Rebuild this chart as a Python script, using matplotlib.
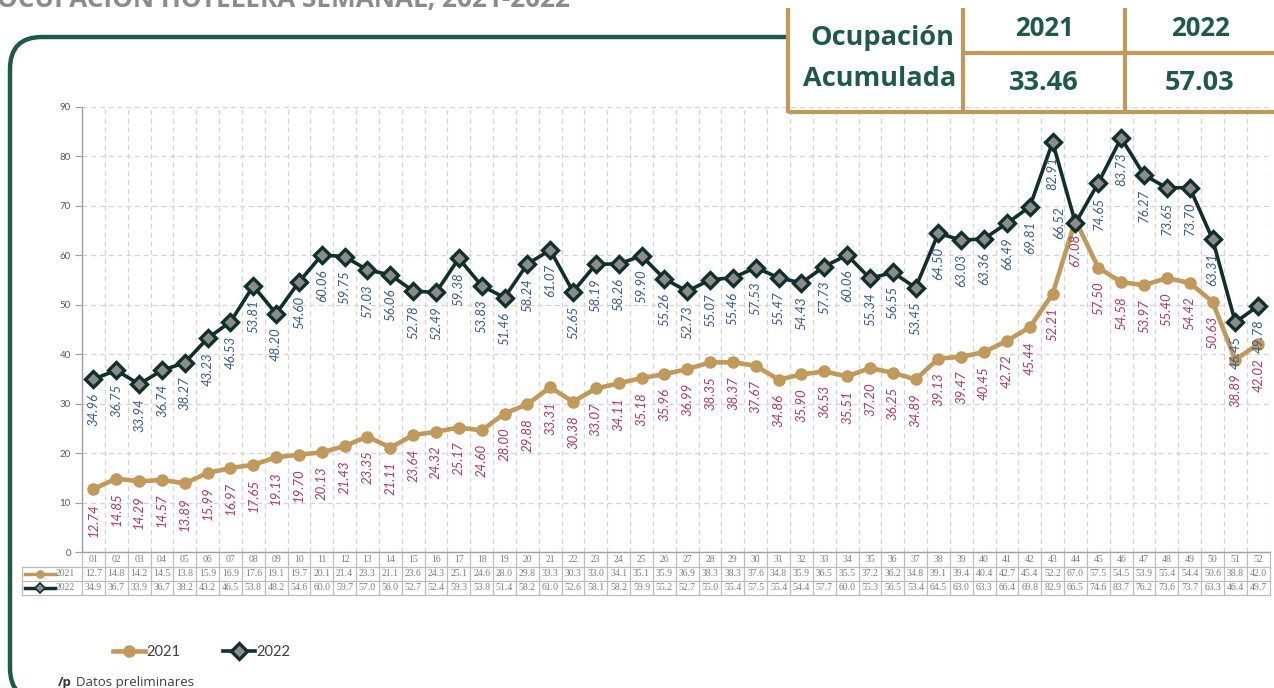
import matplotlib.pyplot as plt
import numpy as np
from matplotlib.lines import Line2D
from matplotlib.patches import FancyBboxPatch, Rectangle
from matplotlib import transforms

# datos semanales (%)
semanas = [f'{i:02d}' for i in range(1, 53)]
occ_2021 = [12.74, 14.85, 14.29, 14.57, 13.89, 15.99, 16.97, 17.65, 19.13, 19.70,
            20.13, 21.43, 23.35, 21.11, 23.64, 24.32, 25.17, 24.60, 28.00, 29.88,
            33.31, 30.38, 33.07, 34.11, 35.18, 35.96, 36.99, 38.35, 38.37, 37.67,
            34.86, 35.90, 36.53, 35.51, 37.20, 36.25, 34.89, 39.13, 39.47, 40.45,
            42.72, 45.44, 52.21, 67.08, 57.50, 54.58, 53.97, 55.40, 54.42, 50.63,
            38.89, 42.02]
occ_2022 = [34.96, 36.75, 33.94, 36.74, 38.27, 43.23, 46.53, 53.81, 48.20, 54.60,
            60.06, 59.75, 57.03, 56.06, 52.78, 52.49, 59.38, 53.83, 51.46, 58.24,
            61.07, 52.65, 58.19, 58.26, 59.90, 55.26, 52.73, 55.07, 55.46, 57.53,
            55.47, 54.43, 57.73, 60.06, 55.34, 56.55, 53.45, 64.50, 63.03, 63.36,
            66.49, 69.81, 82.91, 66.52, 74.65, 83.73, 76.27, 73.65, 73.70, 63.31,
            46.45, 49.78]
acum_years = ['2021', '2022']
acum_vals = ['33.46', '57.03']

TAN = '#c09a5b'
DARK = '#12302a'
GREEN = '#1f5a49'
BLUE = '#3b5b93'
RED = '#b23a5f'
GRAY = '#7f7f7f'


def trunc(v):
    return f'{(int(round(v * 100)) // 10) / 10:.1f}'


W, H = 1274, 688
fig = plt.figure(figsize=(W / 100, H / 100), dpi=100)
px = fig.dpi_scale_trans


def P(x, y):
    return x / 100, (H - y) / 100


# marco redondeado
border = FancyBboxPatch(P(10, 700), 13.0, (700 - 37) / 100,
                        boxstyle='round,pad=0,rounding_size=0.32',
                        transform=px, fill=False, ec=GREEN, lw=3.2, zorder=1)
fig.add_artist(border)

# titulo (cortado)
fig.text(-3 / W, 1 - 7 / H, 'OCUPACIÓN HOTELERA SEMANAL, 2021-2022', fontsize=18.8,
         fontweight='bold', color='#8c8c8c', family='Open Sans', va='baseline')

# grafico
x = np.arange(len(semanas))
ax = fig.add_axes([82 / W, (H - 552) / H, (1269.6 - 82) / W, (552 - 107) / H])
ax.set_facecolor('none')
ax.set_xlim(-0.5, len(semanas) - 0.5)
ax.set_ylim(0, 90)
ax.set_yticks(np.arange(0, 91, 10))
ax.set_xticks(np.arange(-0.5, len(semanas), 1))
ax.set_xticklabels([])
ax.tick_params(axis='x', length=0)
ax.tick_params(axis='y', length=5, color='#a0a0a0', labelsize=7, labelcolor='#595959', pad=3)
for t in ax.get_yticklabels():
    t.set_family('Lato')
ax.grid(True, ls=(0, (4, 3)), color='#d4d4d4', lw=0.9)
ax.set_axisbelow(True)
for s in ['top', 'right']:
    ax.spines[s].set_visible(False)
for s in ['left', 'bottom']:
    ax.spines[s].set_color('#a0a0a0')
    ax.spines[s].set_linewidth(1)

l21, = ax.plot(x, occ_2021, color=TAN, lw=3.3, marker='o', ms=8, mec=TAN, mfc=TAN,
               label='2021', zorder=3, clip_on=False)
l22, = ax.plot(x, occ_2022, color=DARK, lw=2.6, marker='D', ms=8.5, mec=DARK, mew=2.4,
               mfc='#8c8c8c', label='2022', zorder=4, clip_on=False)

for xi, v in zip(x, occ_2021):
    ax.annotate(f'{v:.2f}', (xi, v), xytext=(0, -10), textcoords='offset points',
                rotation=90, ha='center', va='top', fontsize=9.5, color=RED,
                family='Lato', style='italic', zorder=5)
for xi, v in zip(x, occ_2022):
    # la etiqueta de la semana 44 va a la izquierda del punto para no chocar con 2021
    if semanas[xi] == '44':
        off, va = (-12, 0), 'center'
    else:
        off, va = (0, -10), 'top'
    ax.annotate(f'{v:.2f}', (xi, v), xytext=off, textcoords='offset points',
                rotation=90, ha='center', va=va, fontsize=9.5, color=BLUE,
                family='Lato', style='italic', zorder=5)

# tabla de datos inferior
bt = transforms.blended_transform_factory(ax.transData, px)
rows_y = [553, 567, 581, 595]
lc = '#bdbdbd'
for k in range(len(semanas) + 1):
    fig.add_artist(Line2D([k - 0.5, k - 0.5], [(H - 553) / 100, (H - 595) / 100],
                          transform=bt, color=lc, lw=0.9))
for yy in rows_y[1:]:
    fig.add_artist(Line2D([22 / 100, 1269.6 / 100], [(H - yy) / 100] * 2,
                          transform=px, color=lc, lw=0.9))
fig.add_artist(Line2D([22 / 100, 22 / 100], [(H - 567) / 100, (H - 595) / 100],
                      transform=px, color=lc, lw=0.9))
tab_rows = [semanas, [trunc(v) for v in occ_2021], [trunc(v) for v in occ_2022]]
for r, vals in enumerate(tab_rows):
    yc = (H - (rows_y[r] + rows_y[r + 1]) / 2) / 100
    for xi, s in zip(x, vals):
        fig.text(xi, yc, s, transform=bt, ha='center', va='center', fontsize=7,
                 color=GRAY, family='Liberation Serif')

for r, (lab, col, mk, face) in enumerate([('2021', TAN, 'o', TAN), ('2022', DARK, 'D', '#8c8c8c')]):
    yc = (H - (rows_y[r + 1] + rows_y[r + 2]) / 2) / 100
    fig.add_artist(Line2D([25 / 100, 55 / 100], [yc, yc], transform=px, color=col, lw=2.5))
    fig.add_artist(Line2D([40 / 100], [yc], transform=px, color=col, marker=mk, ms=5,
                          mfc=face, mec=col, mew=1.2))
    fig.text(56 / 100, yc, lab, transform=px, ha='left', va='center', fontsize=7,
             color=GRAY, family='Liberation Serif')

# leyenda
fig.legend(handles=[l21, l22], loc='center left', bbox_to_anchor=(100 / W, 1 - 652 / H),
           ncol=2, frameon=False, handlelength=2.2, handletextpad=0.1, columnspacing=2.9,
           prop={'family': 'Lato', 'size': 10.5}, labelcolor='#404040')

# nota
fig.text(58 / W, 1 - 686 / H, '/p', fontsize=9.5, fontweight='bold', color='#333333',
         family='Open Sans', va='baseline')
fig.text(76 / W, 1 - 686 / H, 'Datos preliminares', fontsize=9.5, color='#404040',
         family='Open Sans', va='baseline')

# cuadro de ocupacion acumulada
fig.add_artist(Rectangle(P(790, 104), 4.9, 0.96, transform=px, fc='white', ec='none', zorder=2))
tl = dict(transform=px, color=TAN, lw=3, zorder=3, solid_capstyle='butt')
fig.add_artist(Line2D([7.88, 7.88], [(H - 8) / 100, (H - 113) / 100], **tl))
fig.add_artist(Line2D([9.63, 9.63], [(H - 8) / 100, (H - 113) / 100], **tl))
fig.add_artist(Line2D([11.245, 11.245], [(H - 8) / 100, (H - 113) / 100], **tl))
fig.add_artist(Line2D([9.63, 12.74], [(H - 53) / 100] * 2, **tl))
fig.add_artist(Line2D([7.88, 12.74], [(H - 112) / 100] * 2, **tl))
tk = dict(transform=px, color=GREEN, fontweight='bold', family='Open Sans',
          ha='center', va='center', zorder=4)
fig.text(*P(882, 38), 'Ocupación', fontsize=19.5, **tk)
fig.text(*P(880, 79), 'Acumulada', fontsize=19.5, **tk)
for cx, yr, val in zip([1044, 1200], acum_years, acum_vals):
    fig.text(*P(cx, 28), yr, fontsize=18.5, **tk)
    fig.text(*P(cx, 83), val, fontsize=19.5, **tk)

fig.savefig('out.png', dpi=100)
